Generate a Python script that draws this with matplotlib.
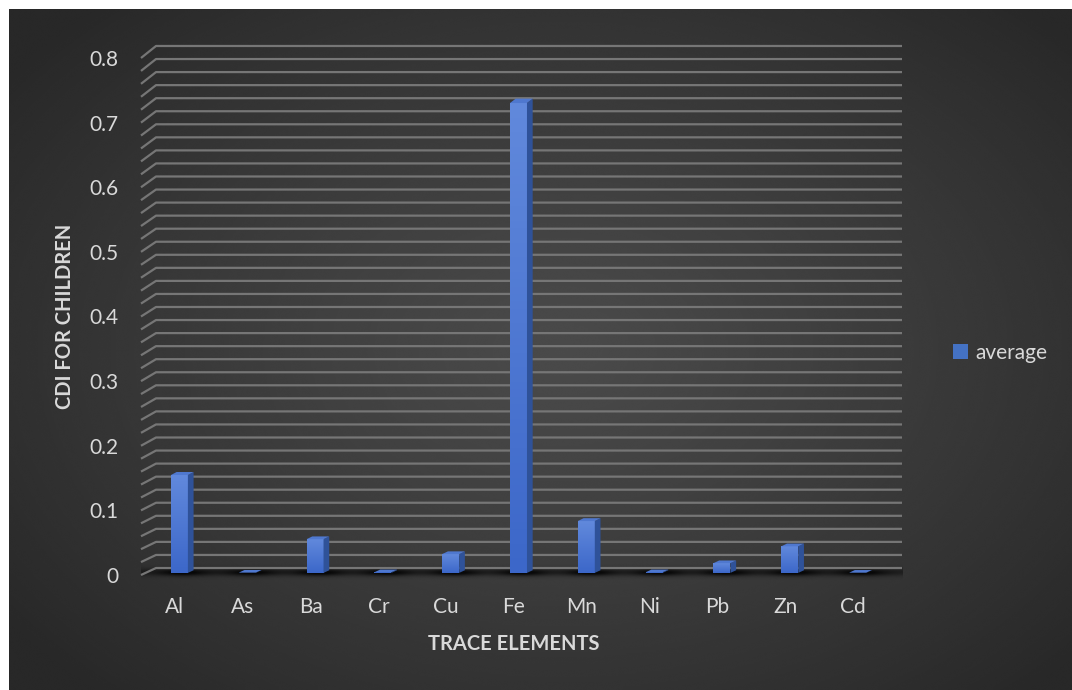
import numpy as np
import matplotlib.pyplot as plt
from matplotlib.patches import Polygon, Patch
from matplotlib.colors import LinearSegmentedColormap

# ---- data -------------------------------------------------------------
elements = ["Al", "As", "Ba", "Cr", "Cu", "Fe", "Mn", "Ni", "Pb", "Zn", "Cd"]
average = [0.151, 0.0004, 0.052, 0.001, 0.029, 0.725, 0.080, 0.001, 0.015, 0.041, 0.0003]
y_ticks = [0.0, 0.1, 0.2, 0.3, 0.4, 0.5, 0.6, 0.7, 0.8]
y_tick_labels = ["0", "0.1", "0.2", "0.3", "0.4", "0.5", "0.6", "0.7", "0.8"]
series_name = "average"
x_title = "TRACE ELEMENTS"
y_title = "CDI FOR CHILDREN"

# ---- style ------------------------------------------------------------
FONT = ["Lato", "DejaVu Sans"]
TEXT = "#d9d9d9"
GRID = "#767676"
FRONT_TOP, FRONT_BOT = "#6189dc", "#3c67c9"
SIDE = "#2f5299"
TOP = "#4f78cf"

plt.rcParams["font.family"] = FONT

W, H = 1072, 690
fig = plt.figure(figsize=(W / 100, H / 100), dpi=100)
fig.patch.set_facecolor("white")

# dark radial background
bg = fig.add_axes([9 / W, 0, 1 - 9 / W, 1 - 9 / H])
yy, xx = np.mgrid[0:1:400j, 0:1:600j]
r = np.sqrt(((xx - 0.52) / 0.64) ** 2 + ((yy - 0.50) / 0.68) ** 2)
shade = 0.29 - 0.13 * np.clip(r, 0, 1) ** 1.2
bg.imshow(shade, cmap="gray", vmin=0, vmax=1, aspect="auto",
          extent=[0, 1, 0, 1], interpolation="bicubic")
bg.set_axis_off()

# plotting axes: front plane of the 3-D box
ax = fig.add_axes([141 / W, 115 / H, 746 / W, 517 / H])
ax.patch.set_alpha(0)
for s in ax.spines.values():
    s.set_visible(False)

# oblique depth projection (z = 0 front, z = 1 back wall)
DX = 15 / 67.8


def back(v):
    return 0.01083 + 1.0097 * v


def depth(x, v, z):
    return x + z * DX, v + z * (back(v) - v)


# floor shadow
x_lo, x_hi = -0.5, len(elements) - 0.5 + DX
y_lo, y_hi = -0.008, 0.016
gx, gy = np.meshgrid(np.linspace(x_lo, x_hi, 900), np.linspace(y_lo, y_hi, 60))
alpha = 0.38 * np.exp(-((gy - 0.004) / 0.006) ** 2)
for i in range(len(elements)):
    alpha += 0.6 * np.exp(-((gx - (i + 0.12)) / 0.35) ** 2) * np.exp(-((gy - 0.003) / 0.005) ** 2)
alpha = np.clip(alpha, 0, 0.85)
rgba = np.zeros(gx.shape + (4,))
rgba[..., 3] = alpha
ax.imshow(rgba, extent=[x_lo, x_hi, y_lo, y_hi], origin="lower", aspect="auto",
          zorder=1, clip_on=False, interpolation="bilinear")

# back-wall gridlines with their slanted side-wall segments
for v in np.arange(0, 0.8001, 0.02):
    bv = back(v)
    ax.plot([-0.5, -0.5 + DX, len(elements) - 0.5 + DX], [v, bv, bv],
            color=GRID, lw=1.6, clip_on=False, zorder=2, solid_capstyle="butt")

# 3-D columns
Z0, Z1, BW = 0.30, 0.68, 0.25
x_idx = np.arange(len(elements))
vals = np.array(average)
bottoms = np.array([depth(0, 0, Z0)[1]] * len(vals))
tops = np.array([depth(0, v, Z0)[1] for v in vals])
bars = ax.bar(x_idx + Z0 * DX, tops - bottoms, width=BW, bottom=bottoms,
              color=FRONT_BOT, linewidth=0, zorder=5)

grad = LinearSegmentedColormap.from_list("bar", [FRONT_BOT, FRONT_TOP])
for bar, v in zip(bars, vals):
    xl = bar.get_x()
    xr = xl + BW
    b0, t0 = bar.get_y(), bar.get_y() + bar.get_height()
    if t0 - b0 > 0.002:
        im = ax.imshow(np.linspace(0, 1, 64).reshape(-1, 1), cmap=grad, origin="lower",
                       extent=[xl, xr, b0, t0], aspect="auto", zorder=5)
        im.set_clip_path(bar)
    dxd = (Z1 - Z0) * DX
    b1 = depth(0, 0, Z1)[1]
    t1 = depth(0, v, Z1)[1]
    ax.add_patch(Polygon([(xr, b0), (xr + dxd, b1), (xr + dxd, t1), (xr, t0)],
                         closed=True, facecolor=SIDE, edgecolor="none", zorder=5))
    ax.add_patch(Polygon([(xl, t0), (xr, t0), (xr + dxd, t1), (xl + dxd, t1)],
                         closed=True, facecolor=TOP, edgecolor="none", zorder=6))
ax.set_xlim(-0.5, len(elements) - 0.5)
ax.set_ylim(0, 0.8)

# ticks and titles
ax.set_xticks(x_idx)
ax.set_xticklabels(elements)
ax.set_yticks(y_ticks)
ax.set_yticklabels(y_tick_labels)
ax.tick_params(axis="x", length=0, pad=16, labelsize=15, labelcolor=TEXT)
ax.tick_params(axis="y", length=0, pad=16, labelsize=15, labelcolor=TEXT)

ax.set_xlabel(x_title, fontsize=14.5, fontweight="bold", color=TEXT, va="center")
ax.xaxis.set_label_coords(0.5, -(644 - 575) / 517)
ax.set_ylabel(y_title, fontsize=14.5, fontweight="bold", color=TEXT, va="center")
ax.yaxis.set_label_coords((65 - 141) / 746, 0.5)

fig.legend(handles=[Patch(facecolor="#4472c4", label=series_name)],
           loc="center left", bbox_to_anchor=(953 / W, 1 - 353 / H),
           frameon=False, handlelength=0.7, handleheight=0.7, handletextpad=0.35,
           borderpad=0, borderaxespad=0, fontsize=15, labelcolor=TEXT)

fig.savefig("out.png", dpi=100, facecolor="white")
